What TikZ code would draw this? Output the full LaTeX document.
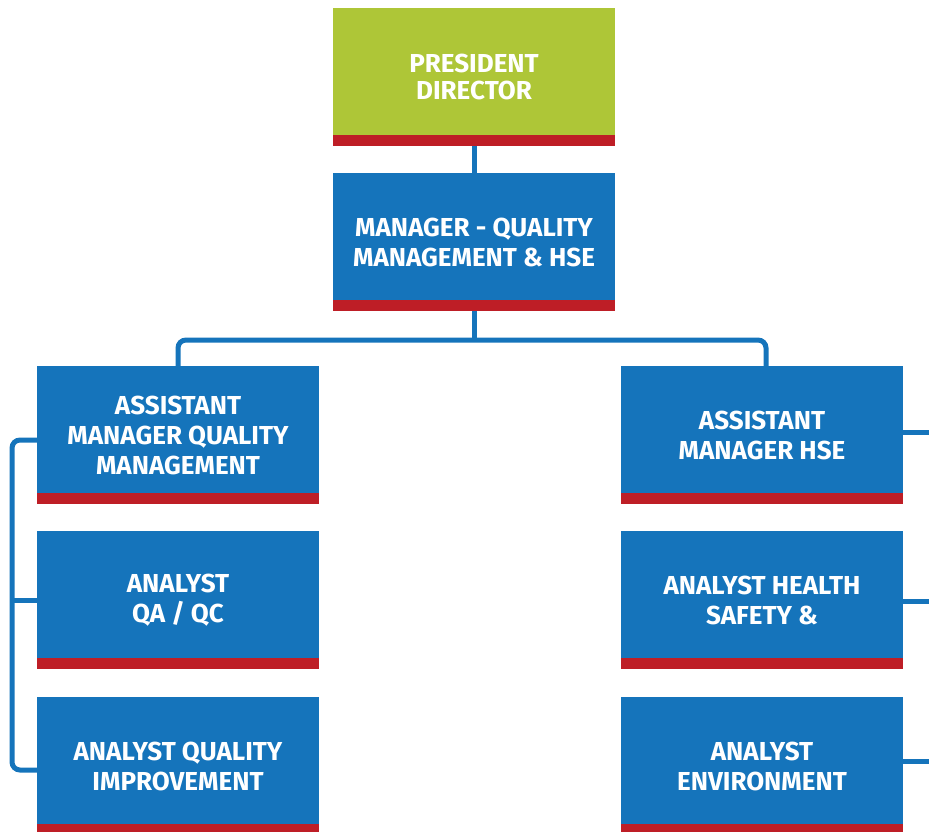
\documentclass[tikz,border=0pt]{standalone}
\usepackage{fontspec}
\setmainfont{Fira Sans}
\usetikzlibrary{backgrounds}
\definecolor{boxblue}{RGB}{21,116,187}
\definecolor{boxgreen}{RGB}{174,198,55}
\definecolor{barred}{RGB}{190,30,38}
\tikzset{
  orgbox/.style={rectangle, fill=boxblue, minimum width=282pt, minimum height=138pt,
    inner sep=0pt, text=white, align=center,
    font=\fontsize{26}{30}\selectfont\bfseries,
    path picture={\fill[barred] (path picture bounding box.south west) rectangle ([yshift=11pt]path picture bounding box.south east);}},
  topbox/.style={orgbox, fill=boxgreen, font=\fontsize{26}{27.5}\selectfont\bfseries},
  conn/.style={draw=boxblue, line width=5pt, rounded corners=8pt},
}
\begin{document}
\begin{tikzpicture}[x=1pt,y=-1pt]
\useasboundingbox (0,0) rectangle (929,831);
\node[topbox] (pres) at (474,77) {PRESIDENT\\DIRECTOR};
\node[orgbox] (mgr) at (474,242) {MANAGER - QUALITY\\MANAGEMENT \& HSE};
\node[orgbox] (aq) at (178,435) {ASSISTANT\\MANAGER QUALITY\\MANAGEMENT};
\node[orgbox] (ah) at (762,435) {ASSISTANT\\MANAGER HSE};
\node[orgbox] (qa) at (178,600) {ANALYST\\QA / QC};
\node[orgbox] (hs) at (762,600) {ANALYST HEALTH\\SAFETY \&};
\node[orgbox] (qi) at (178,766) {ANALYST QUALITY\\IMPROVEMENT};
\node[orgbox] (en) at (762,766) {ANALYST\\ENVIRONMENT};
\coordinate (jn) at (474,340);
\coordinate (lb) at (12,600);
\coordinate (r1) at (929,432);
\coordinate (r2) at (929,601);
\coordinate (r3) at (929,761);
\begin{scope}[on background layer]
\draw[conn] (pres.south) -- (mgr.north);
\draw[conn] (mgr.south) -- (jn);
\draw[conn] (aq.north) |- (jn) -| ([xshift=4pt]ah.north);
\draw[conn] (aq.west |- 0,440) -| (lb) |- (qi.west |- 0,770);
\draw[conn] (lb) -- (qa.west |- 0,600);
\draw[conn] (ah.east |- r1) -- (r1);
\draw[conn] (hs.east |- r2) -- (r2);
\draw[conn] (en.east |- r3) -- (r3);
\end{scope}
\end{tikzpicture}
\end{document}
